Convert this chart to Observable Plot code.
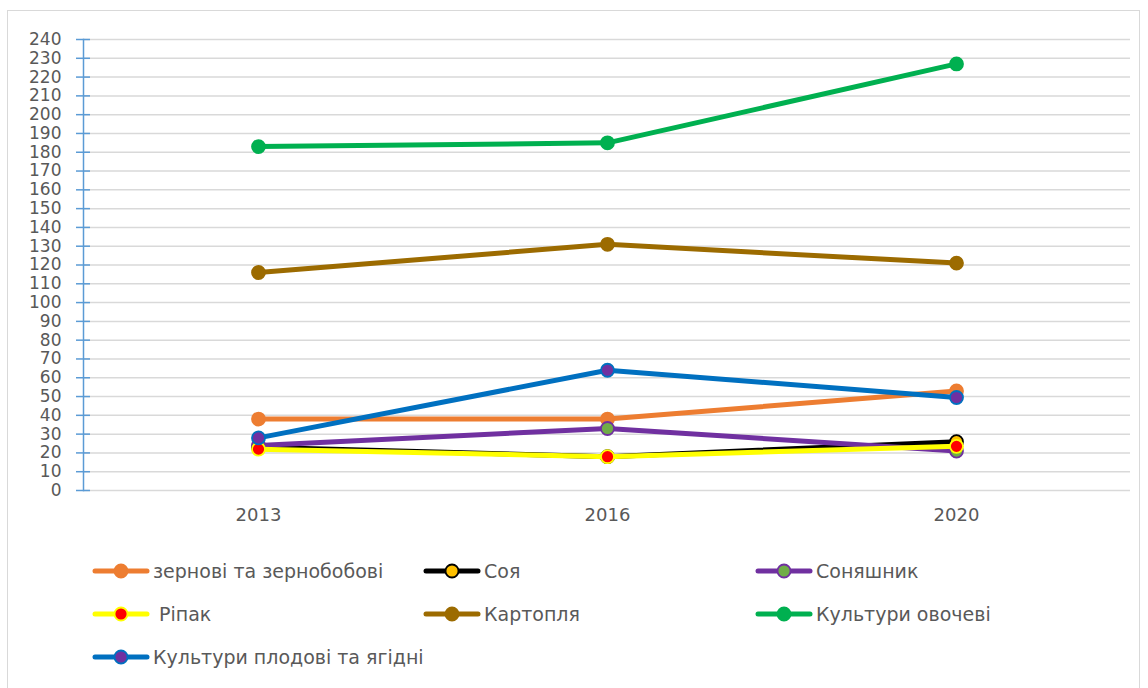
<!DOCTYPE html>
<html><head><meta charset="utf-8">
<script src="https://cdn.jsdelivr.net/npm/d3@7"></script>
<script src="https://cdn.jsdelivr.net/npm/@observablehq/plot@0.6"></script>
<style>
html,body{margin:0;padding:0;background:#fff;}
#wrap{position:relative;width:1148px;height:688px;overflow:hidden;font-family:"DejaVu Sans",sans-serif;}
#border{position:absolute;left:7px;top:10px;width:1133px;height:690px;border:1px solid #d9d9d9;box-sizing:border-box;}
#chart{position:absolute;left:0;top:0;}
.leg{position:absolute;display:flex;align-items:center;font-size:19px;color:#595959;white-space:nowrap;}
.leg svg{display:block;margin-right:3px;}
</style></head>
<body><div id="wrap"><div id="border"></div><div id="chart"></div></div>
<script>
const years = ["2013", "2016", "2020"];
const seriesNames = ["зернові та зернобобові", "Соя", "Соняшник", "Ріпак", "Картопля", "Культури овочеві", "Культури плодові та ягідні"];
const grain = [38, 38, 53];
const soy = [23, 18, 26];
const sunflower = [24, 33, 21];
const rapeseed = [22, 18, 23.5];
const potato = [116, 131, 121];
const vegetables = [183, 185, 227];
const fruits = [28, 64, 49.5];
const yTicks = d3.range(0, 241, 10);
const values = [grain, soy, sunflower, rapeseed, potato, vegetables, fruits];

const lineColors = ["#ed7d31", "#000000", "#7030a0", "#ffff00", "#9c6b00", "#00b050", "#0070c0"];
const dotFill = ["#ed7d31", "#ffc000", "#70ad47", "#ff0000", "#9c6b00", "#00b050", "#7030a0"];
const dotStroke = ["#ed7d31", "#000000", "#7030a0", "#ffff00", "#9c6b00", "#00b050", "#0070c0"];

const rows = [];
seriesNames.forEach((s, i) => years.forEach((y, j) => rows.push({series: s, idx: i, year: y, value: values[i][j]})));

const marks = [
  Plot.gridY(yTicks, {stroke: "#d9d9d9", strokeOpacity: 1, strokeWidth: 1.5}),
  Plot.tickY(yTicks, {y: d => d, stroke: "#5b9bd5", strokeWidth: 1.5, insetLeft: -7, insetRight: 1047 - 7}),
  Plot.frame({anchor: "left", stroke: "#5b9bd5", strokeWidth: 1.5}),
  Plot.axisY(yTicks, {tickSize: 0, tickPadding: 22, fontSize: 17, fill: "#595959", label: null}),
  Plot.axisX({tickSize: 0, tickPadding: 18, fontSize: 18, fill: "#595959", label: null})
];
seriesNames.forEach((s, i) => {
  const d = rows.filter(r => r.idx === i);
  marks.push(Plot.line(d, {x: "year", y: "value", stroke: lineColors[i], strokeWidth: 5, strokeLinecap: "round", strokeLinejoin: "round"}));
  marks.push(Plot.dot(d, {x: "year", y: "value", r: 6.5, fill: dotFill[i], stroke: dotStroke[i], strokeWidth: 1.8}));
});

const chart = Plot.plot({
  width: 1148, height: 540,
  marginLeft: 83, marginRight: 18, marginTop: 39, marginBottom: 50,
  style: {fontFamily: "'DejaVu Sans', sans-serif", background: "transparent", overflow: "visible"},
  x: {type: "point", domain: years, padding: 0.5},
  y: {domain: [0, 240]},
  marks
});
document.getElementById("chart").appendChild(chart);

// legend
const legPos = [[92, 571], [423, 571], [755, 571], [92, 614], [423, 614], [755, 614], [92, 657]];
const wrap = document.getElementById("wrap");
seriesNames.forEach((s, i) => {
  const el = document.createElement("div");
  el.className = "leg";
  el.style.left = legPos[i][0] + "px";
  el.style.top = (legPos[i][1] - 12) + "px";
  el.style.height = "24px";
  el.innerHTML = `<svg width="58" height="24"><line x1="3" y1="12" x2="55" y2="12" stroke="${lineColors[i]}" stroke-width="5" stroke-linecap="round"/><circle cx="29" cy="12" r="6.5" fill="${dotFill[i]}" stroke="${dotStroke[i]}" stroke-width="1.8"/></svg><span>${i === 3 ? "&nbsp;" : ""}${s}</span>`;
  wrap.appendChild(el);
});
</script></body></html>
